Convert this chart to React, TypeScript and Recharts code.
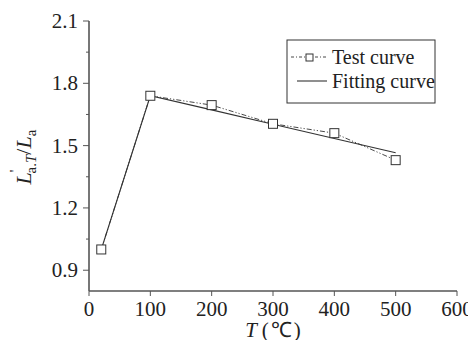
import React from "react";
import {
  LineChart,
  Line,
  XAxis,
  YAxis,
} from "recharts";

const testTemps = [20, 100, 200, 300, 400, 500];
const testRatios = [1.0, 1.74, 1.695, 1.605, 1.56, 1.43];

const fitTemps = [20, 100, 200, 300, 400, 500];
const fitRatios = [1.0, 1.74, 1.672, 1.603, 1.534, 1.466];

const xTicks = [0, 100, 200, 300, 400, 500, 600];
const yTicks = [0.9, 1.05, 1.2, 1.35, 1.5, 1.65, 1.8, 1.95, 2.1];
const yMajor = ["0.9", "1.2", "1.5", "1.8", "2.1"];

const testData = testTemps.map((t, i) => ({ t, v: testRatios[i] }));
const fitData = fitTemps.map((t, i) => ({ t, v: fitRatios[i] }));

const FONT = "Liberation Serif";
const INK = "#333";
const AXIS = "#555";
const TEST_DASH = "5 2 1.2 2 1.2 2";

function SquareDot(props: any) {
  const { cx, cy } = props;
  if (cx == null || cy == null) return null;
  return (
    <rect x={cx - 4.5} y={cy - 4.5} width={9} height={9} fill="#fff" stroke={INK} strokeWidth={1} />
  );
}

function YTick(props: any) {
  const { x, y, payload } = props;
  const label = payload.value.toFixed(2).replace(/0$/, "");
  const major = yMajor.includes(label);
  return (
    <g>
      <line x1={x - (major ? 6 : 3)} x2={x} y1={y} y2={y} stroke={AXIS} strokeWidth={1} />
      {major && (
        <text x={x - 11} y={y} dy={7} textAnchor="end" fontFamily={FONT} fontSize={21} fill="#222">
          {label}
        </text>
      )}
    </g>
  );
}

function XTick(props: any) {
  const { x, y, payload } = props;
  return (
    <g>
      <line x1={x} x2={x} y1={y} y2={y + 5} stroke={AXIS} strokeWidth={1} />
      <text x={x} y={y + 25} textAnchor="middle" fontFamily={FONT} fontSize={21} fill="#222">
        {payload.value}
      </text>
    </g>
  );
}

export default function App() {
  return (
    <div style={{ position: "relative", width: 476, height: 348, background: "#fff", margin: -8 }}>
      <LineChart
        width={476}
        height={348}
        margin={{ top: 21, right: 19, left: 0, bottom: 0 }}
      >
        <XAxis
          xAxisId="b"
          dataKey="t"
          type="number"
          domain={[0, 600]}
          ticks={xTicks}
          tick={<XTick />}
          tickLine={false}
          tickSize={0}
          tickMargin={0}
          height={57}
          axisLine={{ stroke: AXIS, strokeWidth: 1.6 }}
          allowDataOverflow
        />
        <XAxis
          xAxisId="top"
          orientation="top"
          type="number"
          domain={[0, 600]}
          tick={false}
          tickLine={false}
          height={0}
          axisLine={{ stroke: AXIS, strokeWidth: 1.6 }}
        />
        <YAxis
          yAxisId="l"
          type="number"
          domain={[0.8, 2.1]}
          ticks={yTicks}
          tick={<YTick />}
          tickLine={false}
          tickSize={0}
          tickMargin={0}
          width={89}
          axisLine={{ stroke: AXIS, strokeWidth: 1.6 }}
          allowDataOverflow
        />
        <YAxis
          yAxisId="r"
          orientation="right"
          type="number"
          domain={[0.8, 2.1]}
          tick={false}
          tickLine={false}
          width={0}
          axisLine={{ stroke: AXIS, strokeWidth: 1.6 }}
        />
        <Line
          xAxisId="b"
          yAxisId="l"
          data={fitData}
          dataKey="v"
          type="linear"
          stroke={INK}
          strokeWidth={1.1}
          dot={false}
          isAnimationActive={false}
        />
        <Line
          xAxisId="b"
          yAxisId="l"
          data={testData}
          dataKey="v"
          type="linear"
          stroke={INK}
          strokeWidth={0.9}
          strokeDasharray={TEST_DASH}
          dot={<SquareDot />}
          isAnimationActive={false}
        />
        {/* y axis title */}
        <text
          transform="translate(31,157) rotate(-90)"
          textAnchor="middle"
          fontFamily={FONT}
          fontSize={22}
          fill="#222"
        >
          <tspan fontStyle="italic">L</tspan>
          <tspan fontSize={15} dy={-11}>'</tspan>
          <tspan fontSize={15} dy={16} dx={-4}>a.</tspan>
          <tspan fontSize={15} fontStyle="italic">T</tspan>
          <tspan dy={-5}>/</tspan>
          <tspan fontStyle="italic">L</tspan>
          <tspan fontSize={15} dy={5}>a</tspan>
        </text>
        {/* x axis title */}
        <text x={273} y={337} textAnchor="middle" fontFamily={FONT} fontSize={21} fill="#222">
          <tspan fontStyle="italic">T</tspan>
          <tspan dx={5}>(</tspan>
          <tspan dx={2}>℃</tspan>
          <tspan dx={2}>)</tspan>
        </text>
        {/* legend */}
        <g fontFamily={FONT} fontSize={20} fill="#222">
          <rect x={287} y={40} width={148} height={63} fill="#fff" stroke={INK} strokeWidth={1} />
          <line x1={291} x2={327} y1={57} y2={57} stroke={INK} strokeWidth={0.9} strokeDasharray="3 2 1 2" />
          <rect x={306} y={54} width={7} height={7} fill="#fff" stroke={INK} strokeWidth={1} />
          <text x={332} y={64}>Test curve</text>
          <line x1={297} x2={327} y1={81} y2={81} stroke={INK} strokeWidth={1.1} />
          <text x={332} y={88}>Fitting curve</text>
        </g>
      </LineChart>
    </div>
  );
}
